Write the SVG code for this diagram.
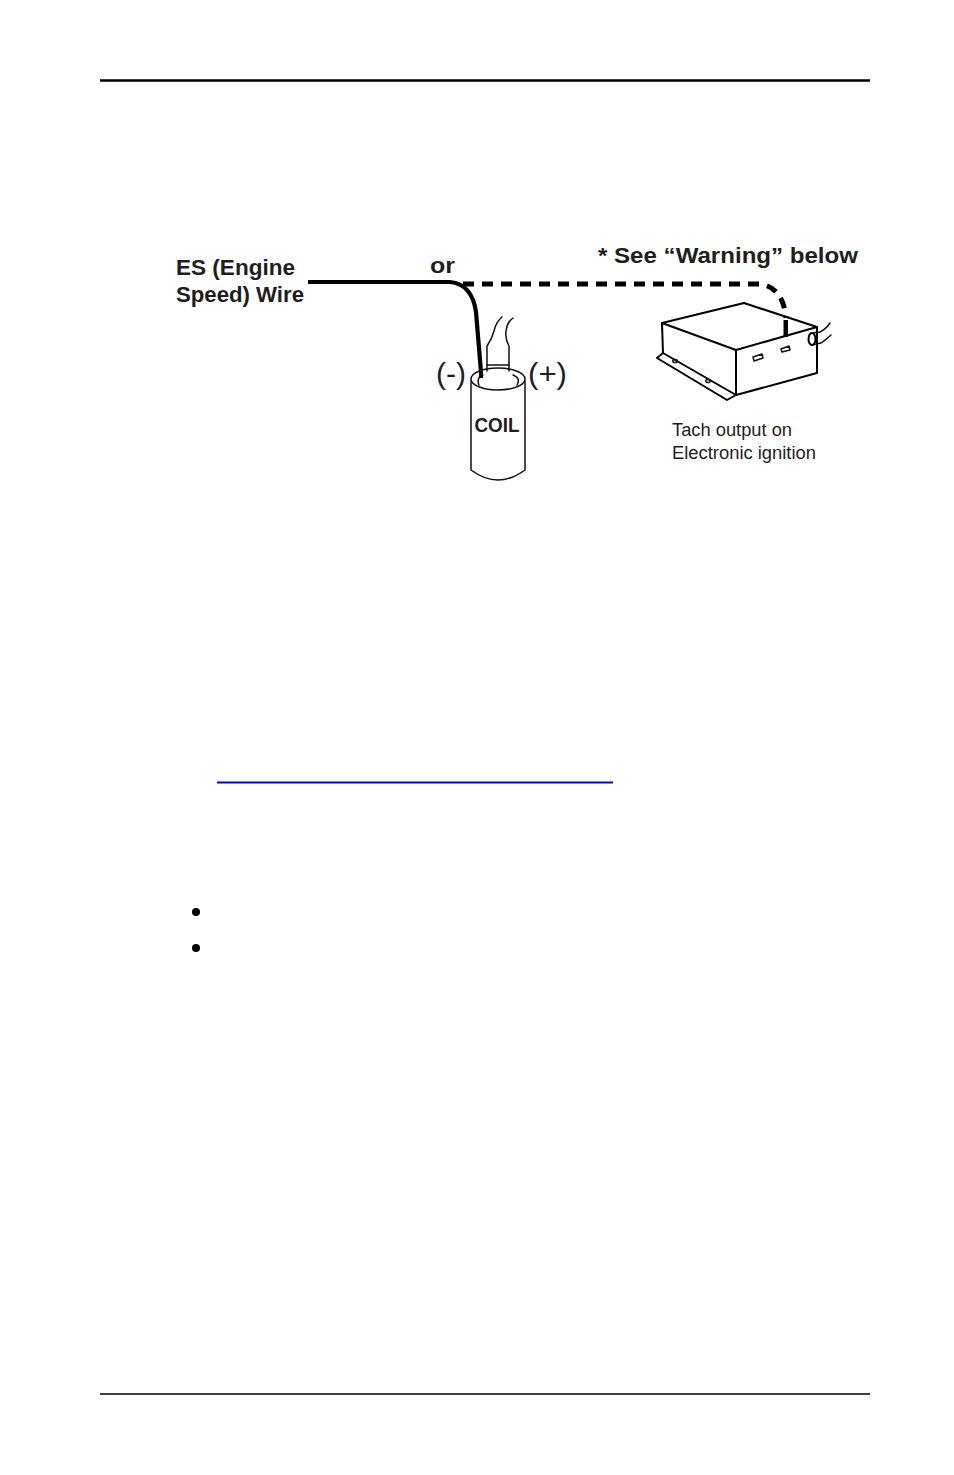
<svg xmlns="http://www.w3.org/2000/svg" width="954" height="1475" viewBox="0 0 954 1475">
<style>
.lbl{font-family:"Liberation Sans",Arial,sans-serif;fill:#1e1e1e}
.b{font-weight:bold}
.ln{fill:none;stroke:#111;stroke-width:1.5;stroke-linejoin:round;stroke-linecap:round}
.bx{fill:none;stroke:#000;stroke-width:2;stroke-linejoin:round;stroke-linecap:round}
</style>
<rect width="954" height="1475" fill="#fff"/>
<g id="page-rules">
<line x1="100" y1="80.5" x2="870" y2="80.5" stroke="#000" stroke-width="2.5"/>
<line x1="100" y1="1394" x2="870" y2="1394" stroke="#000" stroke-width="1.3"/>
<line x1="217" y1="782.5" x2="613" y2="782.5" stroke="#0000ee" stroke-width="2"/>
<circle cx="196" cy="912" r="4" fill="#000"/>
<circle cx="196" cy="948" r="4" fill="#000"/>
</g>
<g id="connectors">
<path d="M308,282 H450 Q472,284 476,312 L481,372" fill="none" stroke="#000" stroke-width="4.2"/>
<path d="M463,284 H760 Q783,287 786,318" fill="none" stroke="#000" stroke-width="5" stroke-dasharray="11 8"/>
</g>
<g id="es-wire-label">
<text class="lbl b" x="176" y="275" font-size="22" textLength="119" lengthAdjust="spacingAndGlyphs">ES (Engine</text>
<text class="lbl b" x="176" y="302" font-size="22" textLength="128" lengthAdjust="spacingAndGlyphs">Speed) Wire</text>
</g>
<g id="or-label">
<text class="lbl b" x="430" y="273" font-size="22" textLength="25" lengthAdjust="spacingAndGlyphs">or</text>
</g>
<g id="warning-label">
<text class="lbl b" x="598" y="263" font-size="22.5" textLength="260" lengthAdjust="spacingAndGlyphs">* See “Warning” below</text>
</g>
<g id="coil">
<path class="ln" d="M487,365 V346 Q492,339 494,331 Q496,322 502,317"/>
<path class="ln" d="M509,365 V346 Q505,339 506,331 Q507,322 513,318"/>
<ellipse class="ln" cx="498" cy="379" rx="27" ry="11" fill="#fff"/>
<path class="ln" d="M479,385 Q476,378 483,375 M513,375 Q521,378 517,385"/>
<path class="ln" d="M487,371 V365 H509 V371" fill="#fff"/>
<path class="ln" d="M471,381 V470 Q498,490 525,470 V381"/>
<path d="M481,372 L481,378" stroke="#000" stroke-width="4"/>
<text class="lbl b" x="474.5" y="432" font-size="21" textLength="45" lengthAdjust="spacingAndGlyphs">COIL</text>
<text class="lbl" x="436" y="384" font-size="30" textLength="30" lengthAdjust="spacingAndGlyphs">(-)</text>
<text class="lbl" x="528" y="384" font-size="30" textLength="39" lengthAdjust="spacingAndGlyphs">(+)</text>
</g>
<g id="ignition-box">
<path class="bx" d="M662,323 L744,303 L817,327 L736,350 Z"/>
<path class="bx" d="M662,323 L663,353 L736,395 L736,350"/>
<path class="bx" d="M736,395 L817,373 L817,327"/>
<path class="bx" d="M663,353 L657,358 L727,400 L736,395"/>
<ellipse class="ln" cx="675" cy="361" rx="2.2" ry="1.6" stroke-width="1.2"/>
<ellipse class="ln" cx="708" cy="381" rx="2.2" ry="1.6" stroke-width="1.2"/>
<path class="ln" d="M753,357 L762,354 L763,358 L754,361 Z" stroke-width="1.4"/>
<path class="ln" d="M781,349 L789,346 L790,350 L782,352 Z" stroke-width="1.4"/>
<rect x="783.5" y="320" width="4.5" height="17" fill="#000"/>
<ellipse class="bx" cx="812" cy="339" rx="3.5" ry="6"/>
<path class="ln" d="M812,333 L820,332 Q826,329 830,323 M812,345 L821,343 Q827,339 831,335" stroke-width="1.2"/>
<text class="lbl" x="672" y="436" font-size="18" textLength="120" lengthAdjust="spacingAndGlyphs">Tach output on</text>
<text class="lbl" x="672" y="459" font-size="18" textLength="144" lengthAdjust="spacingAndGlyphs">Electronic ignition</text>
</g>
</svg>
